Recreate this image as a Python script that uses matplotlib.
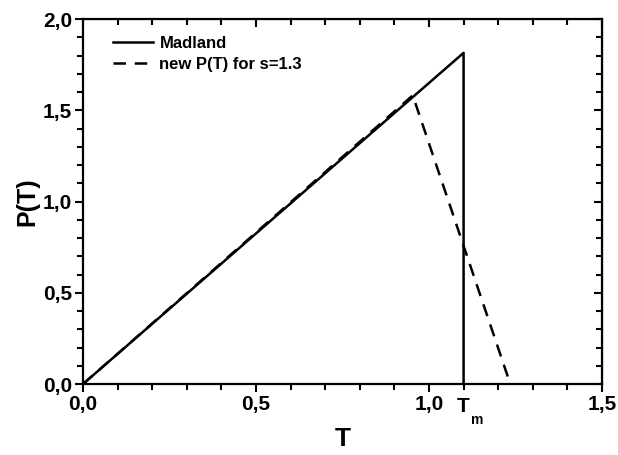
"""Madland P(T) triangle vs new P(T) for s=1.3"""
import matplotlib
matplotlib.use("Agg")
import matplotlib.pyplot as plt
from matplotlib.ticker import MultipleLocator, FuncFormatter

plt.rcParams['font.family'] = ['Liberation Sans', 'DejaVu Sans']
plt.rcParams['font.weight'] = 'bold'

# data
madland_t = [0.0, 1.1, 1.1]
madland_p = [0.0, 1.815, 0.0]
new_t = [0.0, 0.953, 1.235]
new_p = [0.0, 1.582, 0.0]


def comma(x, pos):
    return f"{x:.1f}".replace(".", ",")


fig = plt.figure(figsize=(6.18, 4.55), dpi=100)
ax = fig.add_axes([0.1343, 0.156, 0.8398, 0.802])

ax.plot(madland_t, madland_p, color='black', lw=1.8, label='Madland')
ax.plot(new_t, new_p, color='black', lw=1.8, ls=(0, (5, 3.5)),
        label='new P(T) for s=1.3')

ax.set_xlim(0, 1.5)
ax.set_ylim(0, 2.0)
ax.xaxis.set_major_locator(MultipleLocator(0.5))
ax.xaxis.set_minor_locator(MultipleLocator(0.1))
ax.yaxis.set_major_locator(MultipleLocator(0.5))
ax.yaxis.set_minor_locator(MultipleLocator(0.1))
ax.xaxis.set_major_formatter(FuncFormatter(comma))
ax.yaxis.set_major_formatter(FuncFormatter(comma))

ax.tick_params(which='both', direction='out', width=1.5, labelsize=15)
ax.tick_params(which='major', length=6, pad=2)
ax.tick_params(which='minor', length=4)
for s in ax.spines.values():
    s.set_linewidth(1.6)

# inward ticks on top and right
top = ax.secondary_xaxis('top')
top.xaxis.set_major_locator(MultipleLocator(0.5))
top.xaxis.set_minor_locator(MultipleLocator(0.1))
top.tick_params(which='both', direction='in', width=1.5, labeltop=False)
top.tick_params(which='major', length=6)
top.tick_params(which='minor', length=4)
right = ax.secondary_yaxis('right')
right.yaxis.set_major_locator(MultipleLocator(0.5))
right.yaxis.set_minor_locator(MultipleLocator(0.1))
right.tick_params(which='both', direction='in', width=1.5, labelright=False)
right.tick_params(which='major', length=6)
right.tick_params(which='minor', length=4)

ax.set_xlabel('T', fontsize=19, fontweight='bold', labelpad=9)
ax.set_ylabel('P(T)', fontsize=18, fontweight='bold', labelpad=2)

ax.text(1.1, -0.07, 'T', fontsize=15, fontweight='bold', ha='center', va='top')
ax.text(1.12, -0.16, 'm', fontsize=10, fontweight='bold', ha='left', va='top')

ax.legend(loc='upper left', bbox_to_anchor=(0.035, 0.985), frameon=False,
          fontsize=12, handlelength=2.4, handletextpad=0.4,
          borderaxespad=0.3, labelspacing=0.35)

fig.savefig('out.png', dpi=100)
